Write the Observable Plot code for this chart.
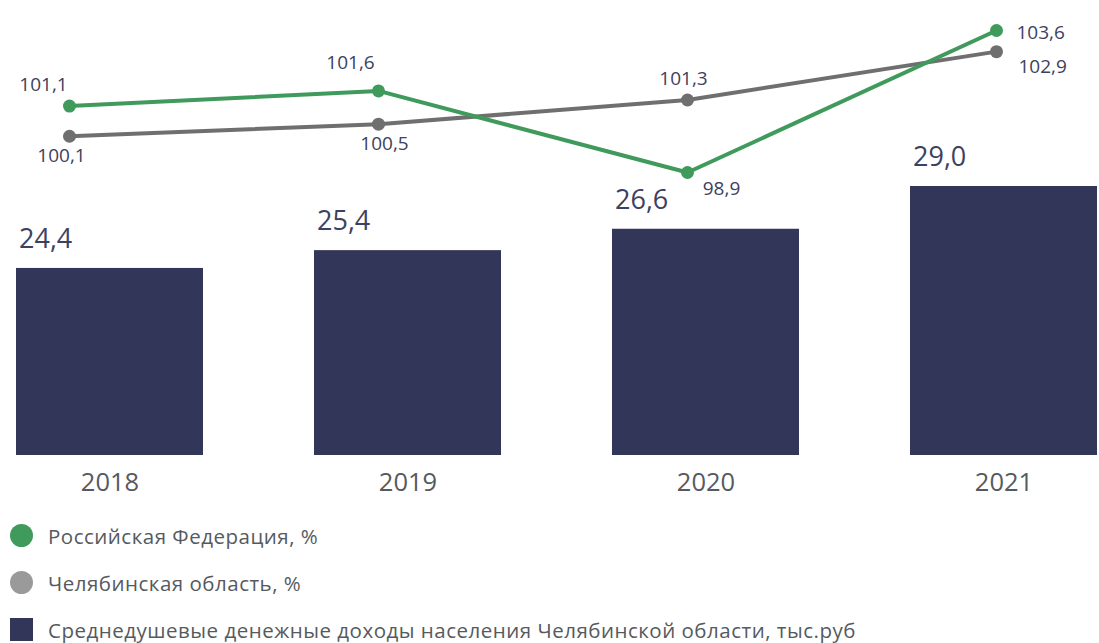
<!DOCTYPE html>
<html>
<head>
<meta charset="utf-8">
<script src="https://cdn.jsdelivr.net/npm/d3@7"></script>
<script src="https://cdn.jsdelivr.net/npm/@observablehq/plot@0.6"></script>
<style>
  body { margin: 0; background: #fff; font-family: "Open Sans", sans-serif; }
  #wrap { position: relative; width: 1099px; height: 643px; overflow: hidden; }
  #bars, #lines { position: absolute; left: 0; top: 0; }
  #legend { position: absolute; left: 0; top: 512px; }
  .item { display: flex; align-items: center; height: 47px; color: #555a60; font-size: 20.5px; letter-spacing: 0.5px; }
  .sw { width: 23px; height: 23px; margin-left: 10px; margin-right: 15px; }
  .dot { border-radius: 50%; }
</style>
</head>
<body>
<div id="wrap">
  <div id="bars"></div>
  <div id="lines"></div>
  <div id="legend"></div>
</div>
<script>
const years = ["2018", "2019", "2020", "2021"];
const russia = [101.1, 101.6, 98.9, 103.6];
const chelyabinsk = [100.1, 100.5, 101.3, 102.9];
const income = [24.4, 25.4, 26.6, 29.0];
const incomeBase = 13.9;
const seriesNames = ["Российская Федерация, %", "Челябинская область, %", "Среднедушевые денежные доходы населения Челябинской области, тыс.руб"];

const fmt = v => v.toFixed(1).replace(".", ",");
const GREEN = "#3f9a5c", GRAY = "#6f6f6f", NAVY = "#323759", LABEL = "#3d4160";

const barData = years.map((y, i) => ({year: y, value: income[i]}));
const lineData = [
  ...years.map((y, i) => ({year: y, value: russia[i], series: "ru"})),
  ...years.map((y, i) => ({year: y, value: chelyabinsk[i], series: "ch"}))
];

const bars = Plot.plot({
  width: 1099, height: 500,
  marginLeft: 15, marginRight: 1, marginTop: 186, marginBottom: 45,
  style: {fontFamily: "Open Sans, sans-serif", background: "transparent"},
  x: {type: "band", domain: years, paddingInner: 0.374, paddingOuter: 0, label: null},
  y: {domain: [incomeBase, 29.0], axis: null},
  marks: [
    Plot.rectY(barData, {x: "year", y1: () => incomeBase, y2: "value", fill: NAVY}),
    Plot.text(barData, {x: "year", y: "value", text: d => fmt(d.value), textAnchor: "start", dx: -91, dy: -29, fontSize: 27, fill: LABEL}),
    Plot.axisX({tickSize: 0, tickPadding: 17, fontSize: 25.5, color: "#555a60", label: null})
  ]
});
bars.querySelectorAll('[aria-label="x-axis tick label"] text').forEach(t => t.setAttribute("fill", "#555a60"));
document.getElementById("bars").appendChild(bars);

const ru = lineData.filter(d => d.series === "ru");
const ch = lineData.filter(d => d.series === "ch");
const at = (arr, y) => arr.filter(d => d.year === y);
const lbl = (arr, opts) => Plot.text(arr, {x: "year", y: "value", text: d => fmt(d.value), fontSize: 19, fill: LABEL, ...opts});

const lines = Plot.plot({
  width: 1099, height: 200,
  marginLeft: 68, marginRight: 103, marginTop: 30, marginBottom: 28,
  style: {fontFamily: "Open Sans, sans-serif", background: "transparent"},
  x: {type: "point", domain: years, padding: 0, axis: null},
  y: {domain: [98.9, 103.6], axis: null},
  marks: [
    Plot.line(ch, {x: "year", y: "value", stroke: GRAY, strokeWidth: 4}),
    Plot.line(ru, {x: "year", y: "value", stroke: GREEN, strokeWidth: 4}),
    Plot.dot(ch, {x: "year", y: "value", fill: GRAY, r: 6.5}),
    Plot.dot(ru, {x: "year", y: "value", fill: GREEN, r: 6.5}),
    lbl(at(ru, "2018"), {dx: -26, dy: -21}),
    lbl(at(ru, "2019"), {dx: -28, dy: -28}),
    lbl(at(ru, "2020"), {dx: 34, dy: 16}),
    lbl(at(ru, "2021"), {textAnchor: "start", dx: 20, dy: 2}),
    lbl(at(ch, "2018"), {dx: -8, dy: 20}),
    lbl(at(ch, "2019"), {dx: 6, dy: 20}),
    lbl(at(ch, "2020"), {dx: -4, dy: -21}),
    lbl(at(ch, "2021"), {textAnchor: "start", dx: 22, dy: 15})
  ]
});
document.getElementById("lines").appendChild(lines);

const legendColors = [GREEN, "#9a9a9a", NAVY];
const legend = document.getElementById("legend");
seriesNames.forEach((name, i) => {
  const row = document.createElement("div");
  row.className = "item";
  const sw = document.createElement("span");
  sw.className = "sw" + (i < 2 ? " dot" : "");
  sw.style.background = legendColors[i];
  row.appendChild(sw);
  const t = document.createElement("span");
  t.textContent = name;
  row.appendChild(t);
  legend.appendChild(row);
});
</script>
</body>
</html>
